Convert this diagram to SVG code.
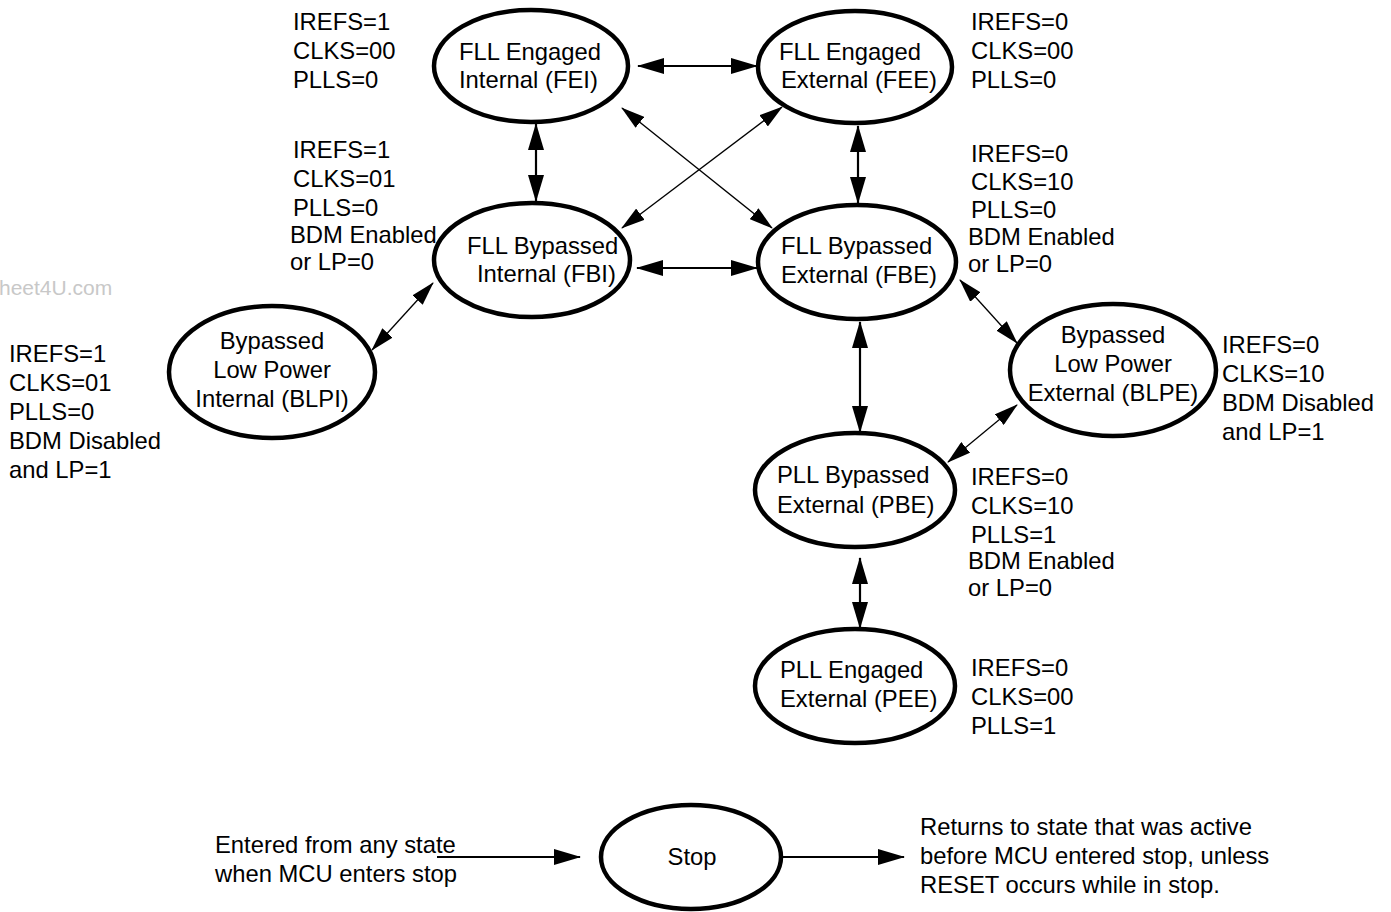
<svg xmlns="http://www.w3.org/2000/svg" width="1391" height="912" viewBox="0 0 1391 912">
<style>
text{font-family:"Liberation Sans",Arial,sans-serif;font-size:23.8px;fill:#000}
.c{text-anchor:middle}
.node ellipse{fill:#fff;stroke:#000;stroke-width:4.5}
.thick{stroke:#000;stroke-width:2.2;fill:none}
.thin{stroke:#000;stroke-width:1.3;fill:none}
.mid{stroke:#000;stroke-width:1.8;fill:none}
.wm{fill:#c8c8c8;font-size:21px}
</style>
<defs>
<marker id="ah" viewBox="0 0 27 16" refX="26" refY="8" markerWidth="27" markerHeight="16" markerUnits="userSpaceOnUse" orient="auto-start-reverse"><path d="M0,0 L27,8 L0,16 Z" fill="#000"/></marker>
<marker id="ahs" viewBox="0 0 24 14" refX="23" refY="7" markerWidth="24" markerHeight="14" markerUnits="userSpaceOnUse" orient="auto-start-reverse"><path d="M0,0 L24,7 L0,14 Z" fill="#000"/></marker>
</defs>
<rect width="1391" height="912" fill="#fff"/>
<text class="wm" x="-1" y="295">heet4U.com</text>
<g id="connectors">
<line class="thick" x1="638" y1="66" x2="757" y2="66" marker-start="url(#ah)" marker-end="url(#ah)"/>
<line class="thick" x1="536" y1="124" x2="536" y2="201" marker-start="url(#ah)" marker-end="url(#ah)"/>
<line class="thick" x1="858" y1="126" x2="858" y2="203" marker-start="url(#ah)" marker-end="url(#ah)"/>
<line class="thin" x1="622" y1="108" x2="772" y2="228" marker-start="url(#ahs)" marker-end="url(#ahs)"/>
<line class="thin" x1="782" y1="107" x2="622" y2="228" marker-start="url(#ahs)" marker-end="url(#ahs)"/>
<line class="thick" x1="637" y1="268" x2="757" y2="268" marker-start="url(#ah)" marker-end="url(#ah)"/>
<line class="thin" x1="433" y1="283" x2="372" y2="350" marker-start="url(#ahs)" marker-end="url(#ahs)"/>
<line class="thin" x1="960" y1="280" x2="1017" y2="343" marker-start="url(#ahs)" marker-end="url(#ahs)"/>
<line class="thick" x1="860" y1="322" x2="860" y2="432" marker-start="url(#ah)" marker-end="url(#ah)"/>
<line class="thin" x1="1017" y1="405" x2="948" y2="462" marker-start="url(#ahs)" marker-end="url(#ahs)"/>
<line class="thick" x1="860" y1="558" x2="860" y2="628" marker-start="url(#ah)" marker-end="url(#ah)"/>
<line class="mid" x1="437" y1="857" x2="580" y2="857" marker-end="url(#ah)"/>
<line class="mid" x1="780" y1="857" x2="904" y2="857" marker-end="url(#ah)"/>
</g>
<g id="FEI" class="node"><ellipse cx="531" cy="66" rx="97" ry="56"/><text x="459" y="60">FLL Engaged</text><text x="459" y="88">Internal (FEI)</text></g>
<g id="FEE" class="node"><ellipse cx="855" cy="67" rx="97" ry="56"/><text x="779" y="60">FLL Engaged</text><text x="781" y="88">External (FEE)</text></g>
<g id="FBI" class="node"><ellipse cx="532" cy="260" rx="98" ry="57"/><text x="467" y="254">FLL Bypassed</text><text x="477" y="282">Internal (FBI)</text></g>
<g id="FBE" class="node"><ellipse cx="857" cy="262" rx="99" ry="57"/><text x="781" y="254">FLL Bypassed</text><text x="781" y="283">External (FBE)</text></g>
<g id="BLPI" class="node"><ellipse cx="272" cy="372" rx="103" ry="66"/><text class="c" x="272" y="349">Bypassed</text><text class="c" x="272" y="378">Low Power</text><text class="c" x="272" y="407">Internal (BLPI)</text></g>
<g id="BLPE" class="node"><ellipse cx="1113" cy="370" rx="103" ry="66"/><text class="c" x="1113" y="343">Bypassed</text><text class="c" x="1113" y="372">Low Power</text><text class="c" x="1113" y="401">External (BLPE)</text></g>
<g id="PBE" class="node"><ellipse cx="855" cy="490" rx="100" ry="57"/><text x="777" y="483">PLL Bypassed</text><text x="777" y="513">External (PBE)</text></g>
<g id="PEE" class="node"><ellipse cx="855" cy="686" rx="100" ry="57"/><text x="780" y="678">PLL Engaged</text><text x="780" y="707">External (PEE)</text></g>
<g id="STOP" class="node"><ellipse cx="691" cy="857" rx="90" ry="52"/><text class="c" x="692" y="865">Stop</text></g>
<g id="labels">
<text x="293" y="30">IREFS=1</text><text x="293" y="59">CLKS=00</text><text x="293" y="88">PLLS=0</text>
<text x="971" y="30">IREFS=0</text><text x="971" y="59">CLKS=00</text><text x="971" y="88">PLLS=0</text>
<text x="293" y="158">IREFS=1</text><text x="293" y="187">CLKS=01</text><text x="293" y="216">PLLS=0</text><text x="290" y="243">BDM Enabled</text><text x="290" y="270">or LP=0</text>
<text x="971" y="162">IREFS=0</text><text x="971" y="190">CLKS=10</text><text x="971" y="218">PLLS=0</text><text x="968" y="245">BDM Enabled</text><text x="968" y="272">or LP=0</text>
<text x="9" y="362">IREFS=1</text><text x="9" y="391">CLKS=01</text><text x="9" y="420">PLLS=0</text><text x="9" y="449">BDM Disabled</text><text x="9" y="478">and LP=1</text>
<text x="1222" y="353">IREFS=0</text><text x="1222" y="382">CLKS=10</text><text x="1222" y="411">BDM Disabled</text><text x="1222" y="440">and LP=1</text>
<text x="971" y="485">IREFS=0</text><text x="971" y="514">CLKS=10</text><text x="971" y="543">PLLS=1</text><text x="968" y="569">BDM Enabled</text><text x="968" y="596">or LP=0</text>
<text x="971" y="676">IREFS=0</text><text x="971" y="705">CLKS=00</text><text x="971" y="734">PLLS=1</text>
<text x="215" y="853">Entered from any state</text><text x="215" y="882">when MCU enters stop</text>
<text x="920" y="835">Returns to state that was active</text><text x="920" y="864">before MCU entered stop, unless</text><text x="920" y="893">RESET occurs while in stop.</text>
</g>
</svg>
